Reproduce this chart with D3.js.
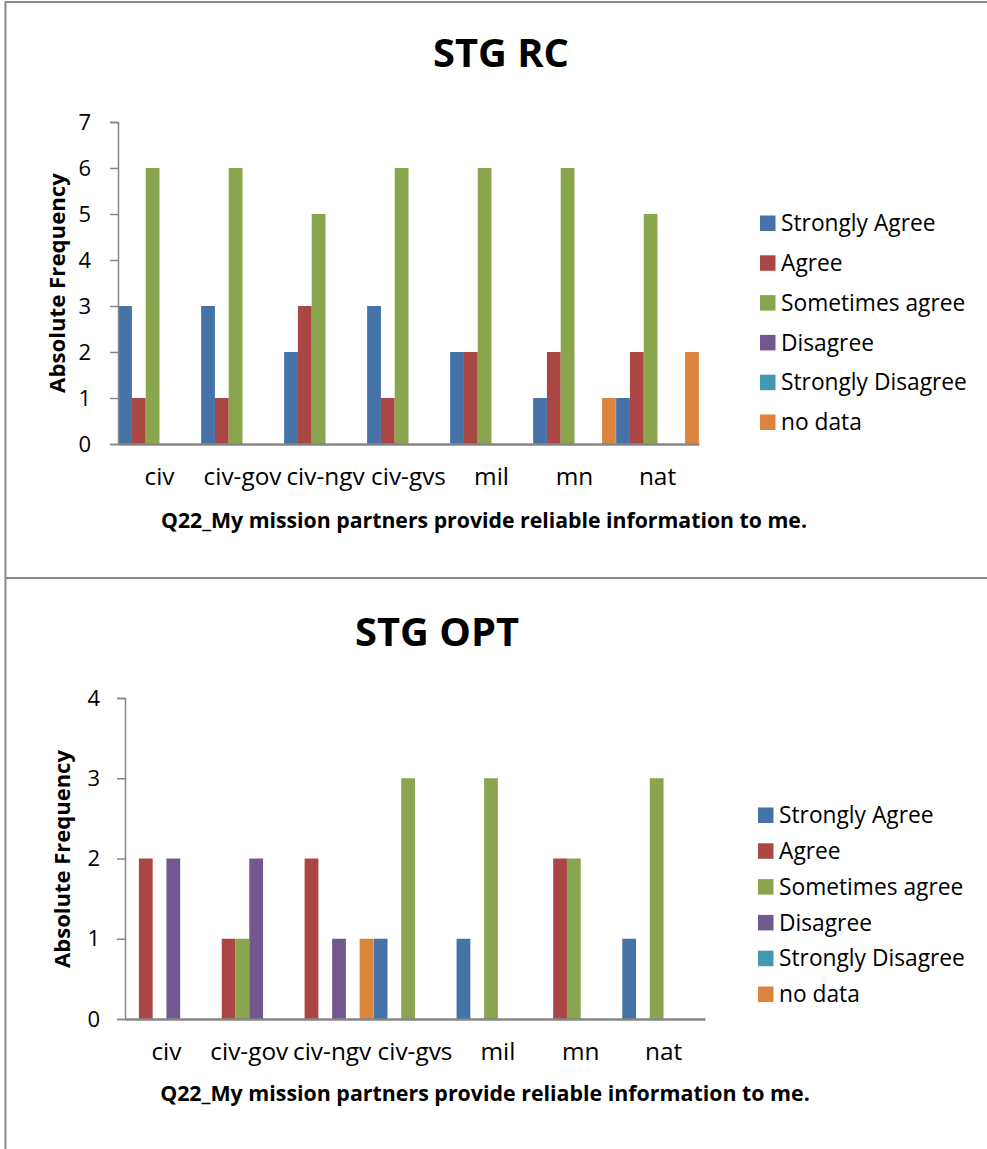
<!DOCTYPE html>
<html>
<head>
<meta charset="utf-8">
<script src="https://cdn.jsdelivr.net/npm/d3@7"></script>
<style>
  html, body { margin: 0; padding: 0; background: #fff; }
  svg { display: block; }
  text { font-family: "Open Sans", Lato, sans-serif; fill: #000; }
</style>
</head>
<body>
<svg id="chart" width="987" height="1149"></svg>
<script>
const categories = ["civ", "civ-gov", "civ-ngv", "civ-gvs", "mil", "mn", "nat"];
const seriesNames = ["Strongly Agree", "Agree", "Sometimes agree", "Disagree", "Strongly Disagree", "no data"];
const seriesColors = ["#4572A7", "#AA4643", "#89A54E", "#71588F", "#4198AF", "#DB843D"];

// STG RC values, one array per series (order of categories)
const rcStronglyAgree    = [3, 3, 2, 3, 2, 1, 1];
const rcAgree            = [1, 1, 3, 1, 2, 2, 2];
const rcSometimesAgree   = [6, 6, 5, 6, 6, 6, 5];
const rcDisagree         = [0, 0, 0, 0, 0, 0, 0];
const rcStronglyDisagree = [0, 0, 0, 0, 0, 0, 0];
const rcNoData           = [0, 0, 0, 0, 0, 1, 2];
const rcTicks = [0, 1, 2, 3, 4, 5, 6, 7];

// STG OPT values
const optStronglyAgree    = [0, 0, 0, 1, 1, 0, 1];
const optAgree            = [2, 1, 2, 0, 0, 2, 0];
const optSometimesAgree   = [0, 1, 0, 3, 3, 2, 3];
const optDisagree         = [2, 2, 1, 0, 0, 0, 0];
const optStronglyDisagree = [0, 0, 0, 0, 0, 0, 0];
const optNoData           = [0, 0, 1, 0, 0, 0, 0];
const optTicks = [0, 1, 2, 3, 4];

const xTitle = "Q22_My mission partners provide reliable information to me.";
const yTitle = "Absolute Frequency";

const svg = d3.select("#chart");
const axisColor = "#868686";

// scale a text's font size so that it spans the wanted width
function fitSize(sel, baseSize, target) {
  sel.attr("font-size", baseSize);
  const w = sel.node().getComputedTextLength();
  const s = baseSize * target / w;
  sel.attr("font-size", s);
  return s;
}

// frame lines
svg.append("line").attr("x1", 5).attr("x2", 987).attr("y1", 2).attr("y2", 2)
  .attr("stroke", "#8c8c8c").attr("stroke-width", 2);
svg.append("line").attr("x1", 5.5).attr("x2", 5.5).attr("y1", 1).attr("y2", 1149)
  .attr("stroke", "#8c8c8c").attr("stroke-width", 2);
svg.append("line").attr("x1", 5).attr("x2", 987).attr("y1", 578).attr("y2", 578)
  .attr("stroke", "#8c8c8c").attr("stroke-width", 2);

function drawPanel(cfg) {
  const g = svg.append("g");
  const x0 = d3.scaleBand().domain(categories).range([cfg.left, cfg.right]).paddingInner(0).paddingOuter(0);
  const x1 = d3.scaleBand().domain(seriesNames).range([0, x0.bandwidth()]).paddingInner(0).paddingOuter(0.01);
  const y = d3.scaleLinear().domain([0, cfg.max]).range([cfg.bottom, cfg.top]);

  // title
  const t = g.append("text").attr("x", cfg.titleX).attr("y", cfg.titleY)
    .attr("text-anchor", "middle").attr("font-weight", "bold")
    .text(cfg.title);
  fitSize(t, 40, cfg.titleW);

  // bars
  categories.forEach((c, ci) => {
    cfg.values.forEach((vals, si) => {
      const v = vals[ci];
      if (v > 0) {
        g.append("rect")
          .attr("x", x0(c) + x1(seriesNames[si]))
          .attr("y", y(v))
          .attr("width", x1.bandwidth())
          .attr("height", y(0) - y(v))
          .attr("fill", seriesColors[si]);
      }
    });
  });

  // y axis
  const yAxis = d3.axisLeft(y).tickValues(cfg.ticks).tickSize(8).tickPadding(cfg.tickPad).tickFormat(d3.format("d"));
  const ya = g.append("g").attr("transform", `translate(${cfg.left},0)`).call(yAxis);
  ya.select(".domain").attr("stroke", axisColor).attr("stroke-width", 1.5);
  ya.selectAll(".tick line").attr("stroke", axisColor).attr("stroke-width", 1.5);
  ya.selectAll(".tick text").attr("font-size", 22).attr("font-family", "'Open Sans', sans-serif").attr("fill", "#000");

  // x axis
  const xAxis = d3.axisBottom(x0).tickSize(0).tickPadding(cfg.catPad);
  const xa = g.append("g").attr("transform", `translate(0,${cfg.bottom})`).call(xAxis);
  xa.select(".domain").attr("stroke", axisColor).attr("stroke-width", 2.5);
  const catTexts = xa.selectAll(".tick text").attr("font-family", "'Open Sans', sans-serif").attr("fill", "#000");
  const ref = catTexts.filter(d => d === "civ-gov");
  const cs = fitSize(ref, 20, 78);
  catTexts.attr("font-size", cs);

  // axis titles
  const xt = g.append("text").attr("x", cfg.xTitleX).attr("y", cfg.xTitleY)
    .attr("text-anchor", "middle").attr("font-weight", "bold")
    .text(xTitle);
  fitSize(xt, 18, cfg.xTitleW);
  const yt = g.append("text")
    .attr("transform", `translate(${cfg.yTitleX},${cfg.yTitleY}) rotate(-90)`)
    .attr("text-anchor", "middle").attr("font-weight", "bold")
    .text(yTitle);
  fitSize(yt, 20, cfg.yTitleW);

  // legend
  const lg = g.append("g");
  let legendSize = null;
  seriesNames.forEach((s, i) => {
    const ly = cfg.legendY + i * cfg.legendStep;
    lg.append("rect").attr("x", cfg.legendX).attr("y", ly - 7.5).attr("width", 15.5).attr("height", 15.5)
      .attr("fill", seriesColors[i]);
    const lt = lg.append("text").attr("x", cfg.legendX + 21).attr("y", ly).attr("dy", "0.36em")
      .attr("font-size", 20).text(s);
    if (s === "Strongly Disagree") legendSize = fitSize(lt, 20, cfg.legendW);
  });
  lg.selectAll("text").attr("font-size", legendSize);
}

drawPanel({
  title: "STG RC", titleX: 501, titleY: 67, titleW: 136,
  left: 118, right: 699, top: 122, bottom: 444, max: 7, ticks: rcTicks,
  values: [rcStronglyAgree, rcAgree, rcSometimesAgree, rcDisagree, rcStronglyDisagree, rcNoData],
  tickPad: 19, catPad: 24,
  xTitleX: 484, xTitleY: 528, xTitleW: 646,
  yTitleX: 65, yTitleY: 283, yTitleW: 220,
  legendX: 760, legendY: 223, legendStep: 39.8, legendW: 186
});

drawPanel({
  title: "STG OPT", titleX: 437, titleY: 646, titleW: 164,
  left: 125, right: 705, top: 698, bottom: 1019, max: 4, ticks: optTicks,
  values: [optStronglyAgree, optAgree, optSometimesAgree, optDisagree, optStronglyDisagree, optNoData],
  tickPad: 17, catPad: 24,
  xTitleX: 485, xTitleY: 1101, xTitleW: 650,
  yTitleX: 70, yTitleY: 859, yTitleW: 218,
  legendX: 758, legendY: 815, legendStep: 35.8, legendW: 186
});
</script>
</body>
</html>
